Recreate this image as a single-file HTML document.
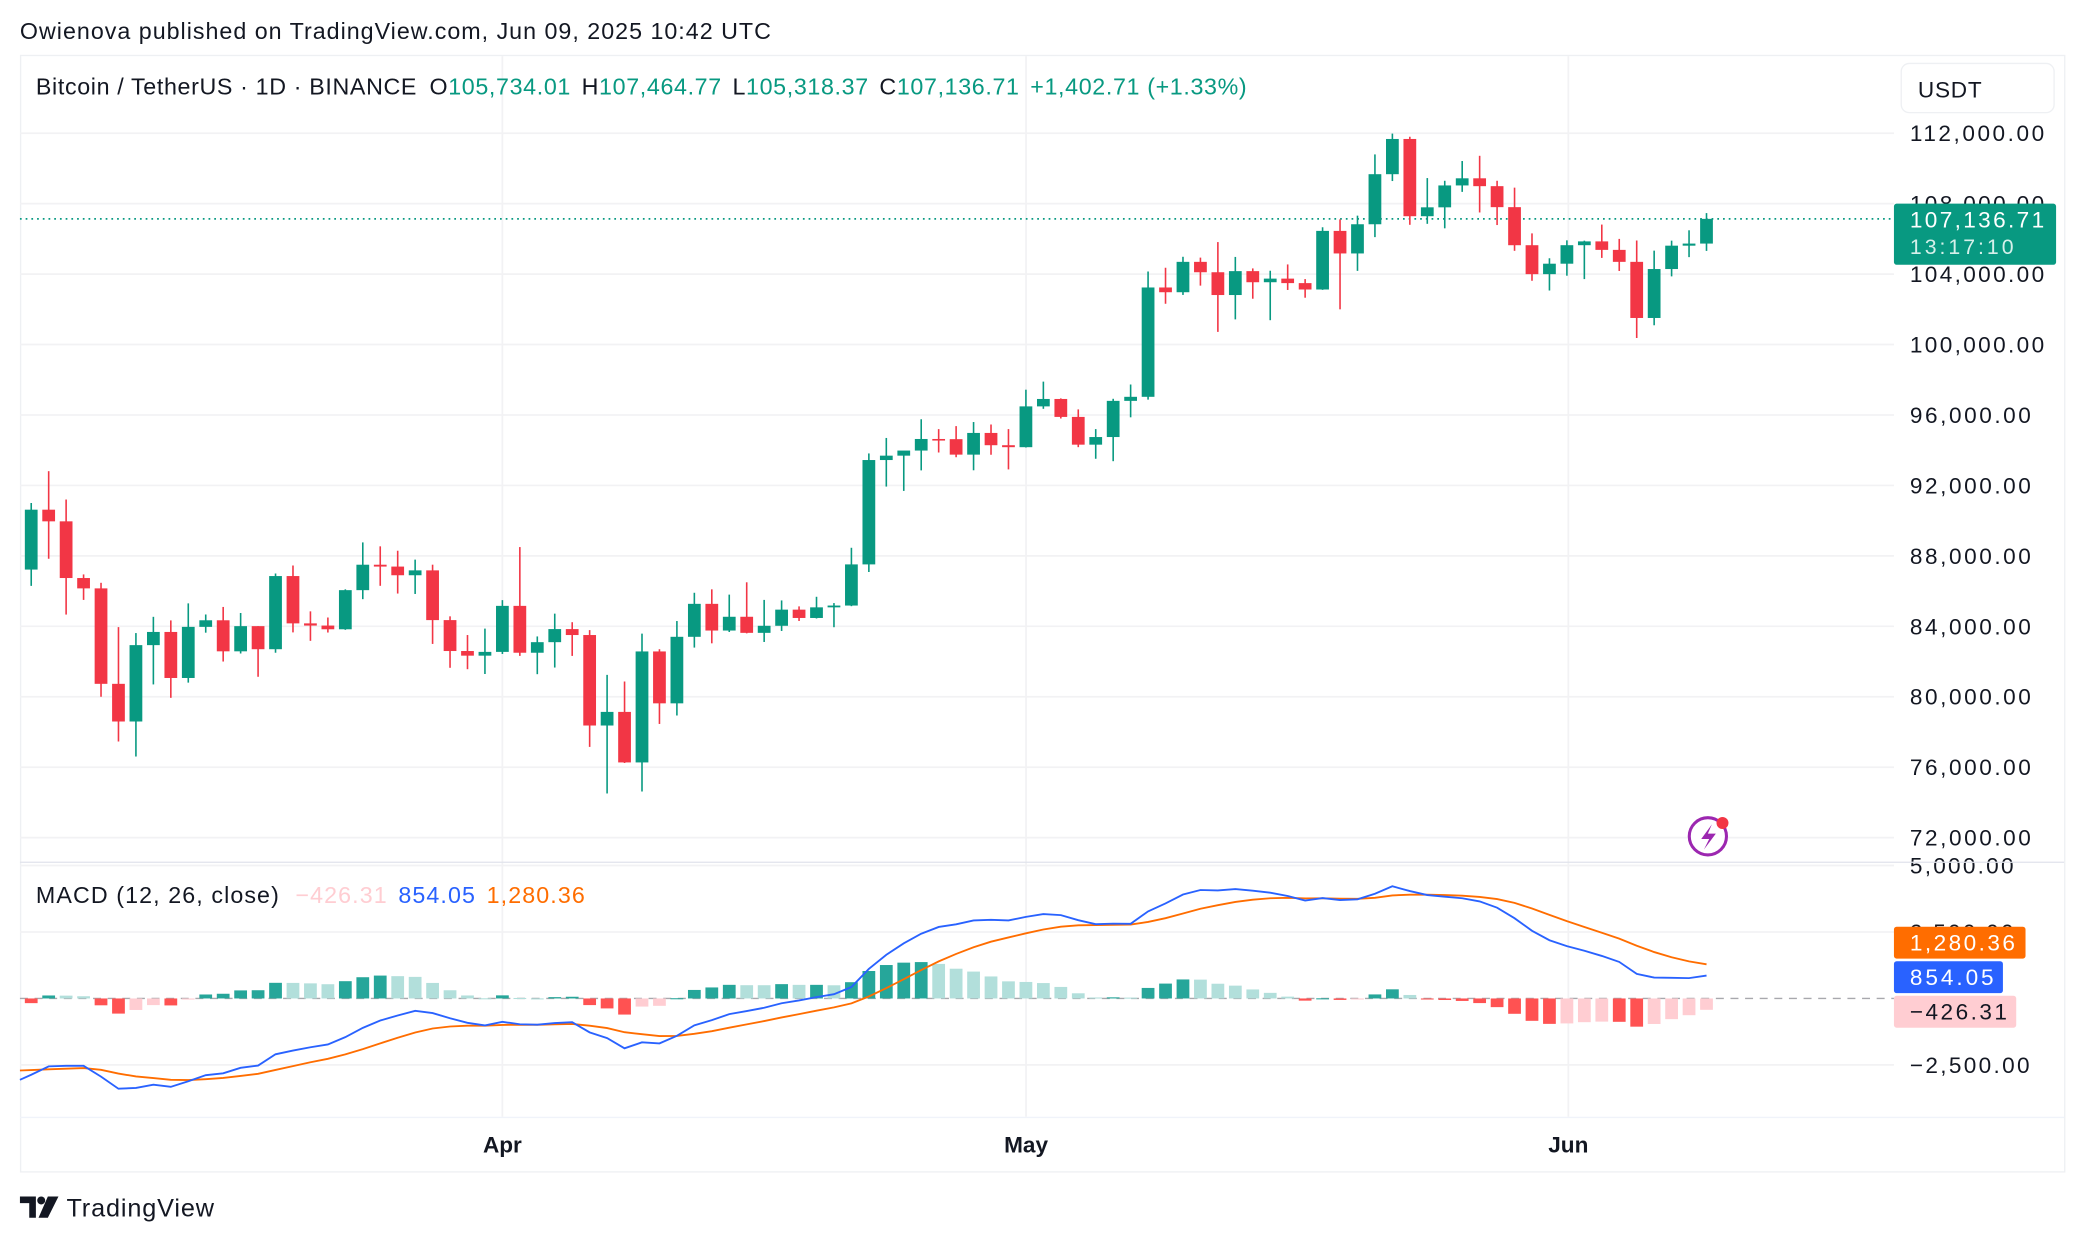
<!DOCTYPE html>
<html><head><meta charset="utf-8">
<style>
html,body{margin:0;padding:0;background:#fff;}
svg{display:block;font-family:"Liberation Sans",sans-serif;}
</style></head>
<body>
<svg id="s" width="2084" height="1242" viewBox="0 0 1568 934" xmlns="http://www.w3.org/2000/svg">
<rect x="0" y="0" width="1568" height="934" fill="#fff"/>
<text x="15" y="29" font-size="17.5" fill="#131722" textLength="565" lengthAdjust="spacing">Owienova published on TradingView.com, Jun 09, 2025 10:42 UTC</text>
<rect x="15.5" y="41.5" width="1538" height="840" fill="none" stroke="#eef0f3" stroke-width="1"/>
<g id="grid"></g>
<g id="candles"></g>
<g id="macd"></g>
<g id="ax"></g>
<line x1="15" y1="648.5" x2="1553" y2="648.5" stroke="#e0e3eb" stroke-width="1"/>
<line x1="15" y1="840.5" x2="1553" y2="840.5" stroke="#f0f3fa" stroke-width="1"/>
<text x="27" y="71" font-size="17.5" fill="#131722" textLength="911" lengthAdjust="spacing">Bitcoin / TetherUS · 1D · BINANCE <tspan dx="4">O</tspan><tspan fill="#089981">105,734.01</tspan><tspan dx="8">H</tspan><tspan fill="#089981">107,464.77</tspan><tspan dx="8">L</tspan><tspan fill="#089981">105,318.37</tspan><tspan dx="8">C</tspan><tspan fill="#089981">107,136.71</tspan><tspan dx="8" fill="#089981">+1,402.71 (+1.33%)</tspan></text>
<text x="27" y="679" font-size="17.5" fill="#131722" textLength="413" lengthAdjust="spacing">MACD (12, 26, close) <tspan dx="6" fill="#ffcdd2">−426.31</tspan><tspan dx="8" fill="#2962ff">854.05</tspan><tspan dx="8" fill="#ff6d00">1,280.36</tspan></text>
<rect x="1430.5" y="47.5" width="115" height="37" rx="6" fill="#fff" stroke="#eef0f3"/>
<text x="1443" y="73" font-size="17" fill="#131722" textLength="48" lengthAdjust="spacing">USDT</text>
<g font-size="17" font-weight="bold" fill="#131722" text-anchor="middle">
<text x="378" y="867">Apr</text><text x="772" y="867">May</text><text x="1180" y="867">Jun</text>
</g>
<circle cx="1285" cy="629" r="14" fill="#fff" stroke="#9c27b0" stroke-width="2.3"/>
<path d="M1288 620 L1280 631 L1286 631 L1282 639 L1291 627 L1285 627 Z" fill="#9c27b0"/>
<circle cx="1296" cy="619" r="4.5" fill="#f23645"/>
<g fill="#131722">
<path d="M15 900 h12 v16 h-5 v-11 h-7 z"/><circle cx="31" cy="903" r="3"/>
<path d="M36 900 h8 l-8 16 h-7 z"/>
</g>
<text x="50" y="915" font-size="19" fill="#131722" textLength="111" lengthAdjust="spacing">TradingView</text>
</svg>
<script>
var D=[
[87222,91000,86300,90623],[90623,92810,87836,89961],[89961,91200,84667,86742],[86742,86947,85500,86154],[86154,86471,80000,80734],[80734,83955,77459,78595],[78595,83617,76606,82932],[82932,84539,80700,83680],[83680,84336,79939,81066],[81066,85300,80800,83969],[83969,84672,83639,84343],[84343,85100,82000,82580],[82580,84756,82456,84010],[84010,84010,81134,82700],[82700,87000,82500,86854],[86854,87454,83655,84167],[84167,84850,83175,84043],[84043,84500,83647,83832],[83832,86100,83800,86054],[86054,88765,85542,87498],[87498,88542,86300,87392],[87392,88292,85861,86900],[86900,87787,85837,87177],[87177,87500,83000,84353],[84353,84567,81644,82597],[82597,83505,81565,82334],[82334,83870,81293,82548],
[82548,85487,82429,85161],[85161,88500,82320,82500],[82500,83425,81282,83100],[83100,84720,81659,83843],[83843,84234,82320,83505],[83505,83785,77153,78367],[78367,81243,74508,79140],[79140,80867,76239,76271],[76271,83588,74620,82573],[82573,82700,78456,79626],[79626,84300,78936,83404],[83404,85905,82792,85276],[85276,86100,83034,83760],[83760,85800,83678,84542],[84542,86500,83600,83629],[83629,85500,83111,84030],[84030,85470,83736,84947],[84947,85132,84303,84474],[84474,85677,84444,85077],[85077,85320,83949,85179],[85179,88460,85143,87516],[87516,93817,87084,93442],[93442,94696,91935,93691],[93691,93730,91689,93980],[93980,95758,92855,94638],[94638,95199,93870,94628],[94628,95369,93602,93749],[93749,95600,92860,94981],[94981,95460,93742,94284],[94284,95200,92910,94172],
[94172,97437,94153,96489],[96489,97895,96350,96910],[96910,96943,95800,95891],[95891,96318,94173,94315],[94315,95199,93514,94748],[94748,96920,93377,96802],[96802,97732,95868,97032],[97032,104145,96876,103241],[103241,104361,102316,102971],[102971,104984,102818,104696],[104696,104937,103346,104106],[104106,105819,100719,102812],[102812,104976,101429,104169],[104169,104324,102602,103539],[103539,104192,101383,103744],[103744,104550,103100,103489],[103489,103717,102659,103126],[103126,106660,103105,106454],[106454,107108,102000,105173],[105173,107320,104184,106831],[106831,110797,106100,109674],[109674,111980,109285,111674],[111674,111800,106800,107287],[107287,109454,106855,107792],[107792,109300,106600,109035],[109035,110422,108670,109440],[109440,110718,107500,108994],[108994,109300,106786,107802],[107802,108910,105322,105641],[105641,106313,103621,103998],[103998,104900,103068,104591],
[104591,105918,103910,105642],[105642,105900,103717,105858],[105858,106813,104920,105376],[105376,106000,104179,104696],[104696,105909,100372,101509],[101509,105333,101095,104288],[104288,105900,103871,105615],[105615,106488,104964,105734],[105734,107465,105318,107137]];
var NS="http://www.w3.org/2000/svg";
function el(p,t,a){var e=document.createElementNS(NS,t);for(var k in a)e.setAttribute(k,a[k]);p.appendChild(e);return e;}
function py(p){return 100+(112000-p)*53/4000;}
function my(v){return 751-v*0.02;}
function X(i){return 378+(i-27)*13.13;}
var g=document.getElementById('grid');
for(var p=72000;p<=112000;p+=4000){el(g,'line',{x1:15,x2:1425,y1:py(p),y2:py(p),stroke:'#f2f2f4','stroke-width':1.3});}
[378,772,1180].forEach(function(x){el(g,'line',{x1:x,x2:x,y1:42,y2:840,stroke:'#f2f2f4','stroke-width':1.3});});
[5000,2500,-2500].forEach(function(v){el(g,'line',{x1:15,x2:1425,y1:my(v),y2:my(v),stroke:'#f2f2f4','stroke-width':1.3});});
el(g,'line',{x1:15,x2:1425,y1:751,y2:751,stroke:'#a8a8ad','stroke-width':1,'stroke-dasharray':'6 5'});
el(g,'line',{x1:15,x2:1425,y1:py(107137),y2:py(107137),stroke:'#089981','stroke-width':1.3,'stroke-dasharray':'1.3 3'});
var c=document.getElementById('candles');
D.forEach(function(d,i){var x=X(i),up=d[3]>=d[0],col=up?'#089981':'#f23645';
el(c,'line',{x1:x,x2:x,y1:py(d[1]),y2:py(d[2]),stroke:col,'stroke-width':1.2});
var t=py(Math.max(d[0],d[3])),b=py(Math.min(d[0],d[3]));if(b-t<1.2)b=t+1.2;
el(c,'rect',{x:x-4.8,y:t,width:9.6,height:b-t,fill:col});});
var k12=2/13,k26=2/27,k9=0.2,e12=88300,e26=91600,sg=-2650,M=[],S=[],H=[];
D.forEach(function(d){e12+=(d[3]-e12)*k12;e26+=(d[3]-e26)*k26;var m=e12-e26;sg+=(m-sg)*k9;M.push(m);S.push(sg);H.push(m-sg);});
var mg=document.getElementById('macd');var prev=0;
H.forEach(function(h,i){var col=h>=0?(h>prev?'#26a69a':'#b2dfdb'):(h<prev?'#ff5252':'#ffcdd2');prev=h;
var y1=Math.min(my(h),751),y2=Math.max(my(h),751);el(mg,'rect',{x:X(i)-4.8,y:y1,width:9.6,height:Math.max(y2-y1,0.8),fill:col});});
function pl(arr,col){var s='';arr.forEach(function(v,i){s+=(i?'L':'M')+X(i).toFixed(1)+' '+my(v).toFixed(1);});
s='M15 '+my(arr[0]-(arr[1]-arr[0])*0.6).toFixed(1)+' L'+s.slice(1);el(mg,'path',{d:s,fill:'none',stroke:col,'stroke-width':1.4});}
pl(S,'#ff6d00');pl(M,'#2962ff');
var a=document.getElementById('ax');
function tx(x,y,s,fs,fill,len){var t=el(a,'text',{x:x,y:y,'font-size':fs,fill:fill,textLength:len,lengthAdjust:'spacing'});t.textContent=s;return t;}
for(var p=72000;p<=112000;p+=4000){var s=p.toLocaleString('en-US')+'.00';tx(1437,py(p)+6,s,17,'#131722',s.length==10?101:91);}
tx(1437,my(5000)+6,'5,000.00',17,'#131722',78);
tx(1437,my(2500)+6,'2,500.00',17,'#131722',78);
tx(1437,my(-2500)+6,'−2,500.00',17,'#131722',90);
el(a,'rect',{x:1425,y:153,width:122,height:46,rx:2,fill:'#089981'});
tx(1437,171,'107,136.71',17,'#fff',101);
tx(1437,191,'13:17:10',16,'#d6f0ea',78);
[[697,1524,'#ff6d00','1,280.36','#fff',79],[723,1507,'#2962ff','854.05','#fff',63],[749,1517,'#ffcdd2','−426.31','#131722',73]].forEach(function(r){
el(a,'rect',{x:1425,y:r[0],width:r[1]-1425,height:24,rx:2,fill:r[2]});tx(1437,r[0]+18,r[3],17,r[4],r[5]);});
</script>
</body></html>
